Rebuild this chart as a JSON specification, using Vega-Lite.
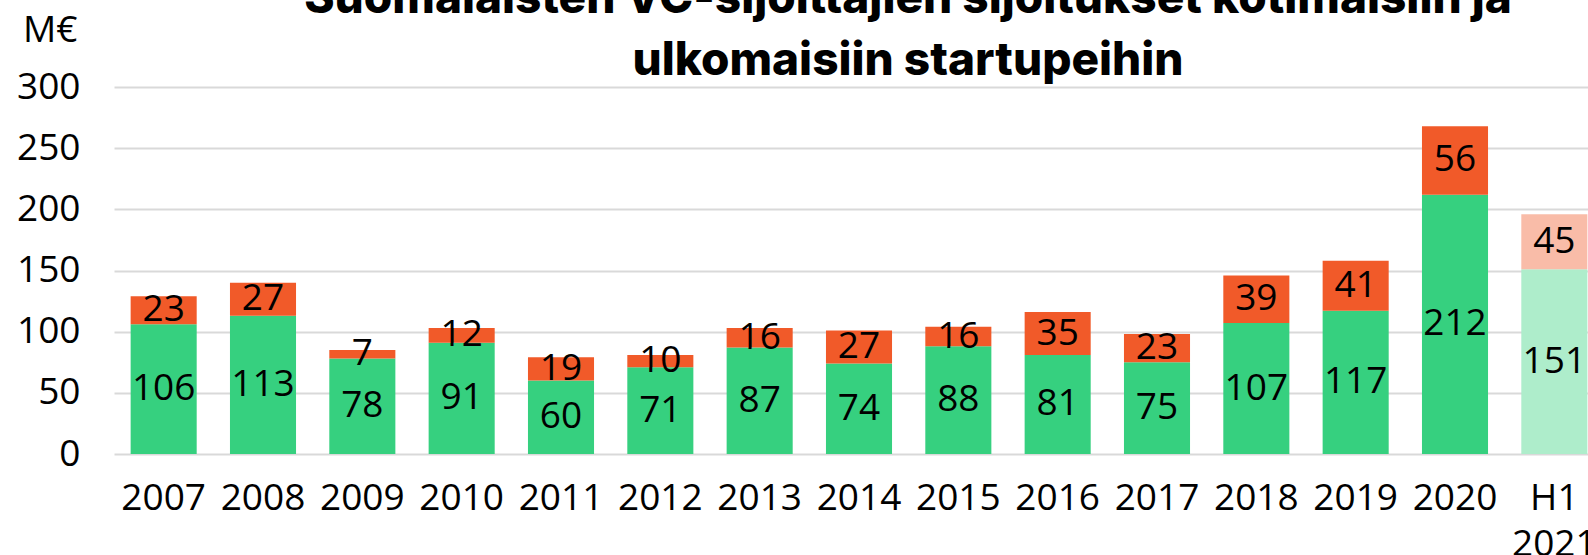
{
  "$schema": "https://vega.github.io/schema/vega-lite/v6.json",
  "width": 1474,
  "height": 367,
  "autosize": {"type": "none"},
  "padding": {"left": 114, "top": 87, "right": 0, "bottom": 101},
  "background": "white",
  "config": {"view": {"stroke": null}, "font": "Open Sans"},
  "title": {
    "text": ["Suomalaisten VC-sijoittajien sijoitukset kotimaisiin ja", "ulkomaisiin startupeihin"],
    "font": "Inter",
    "fontSize": 46,
    "fontWeight": 800,
    "lineHeight": 62,
    "anchor": "middle",
    "dx": 57,
    "dy": 78,
    "color": "black"
  },
  "data": {
    "values": [
      {"year": "2007", "type": "Kotimaiset", "ord": 1, "series": "Kotimaiset", "value": 106},
      {"year": "2007", "type": "Ulkomaiset", "ord": 2, "series": "Ulkomaiset", "value": 23},
      {"year": "2008", "type": "Kotimaiset", "ord": 1, "series": "Kotimaiset", "value": 113},
      {"year": "2008", "type": "Ulkomaiset", "ord": 2, "series": "Ulkomaiset", "value": 27},
      {"year": "2009", "type": "Kotimaiset", "ord": 1, "series": "Kotimaiset", "value": 78},
      {"year": "2009", "type": "Ulkomaiset", "ord": 2, "series": "Ulkomaiset", "value": 7},
      {"year": "2010", "type": "Kotimaiset", "ord": 1, "series": "Kotimaiset", "value": 91},
      {"year": "2010", "type": "Ulkomaiset", "ord": 2, "series": "Ulkomaiset", "value": 12},
      {"year": "2011", "type": "Kotimaiset", "ord": 1, "series": "Kotimaiset", "value": 60},
      {"year": "2011", "type": "Ulkomaiset", "ord": 2, "series": "Ulkomaiset", "value": 19},
      {"year": "2012", "type": "Kotimaiset", "ord": 1, "series": "Kotimaiset", "value": 71},
      {"year": "2012", "type": "Ulkomaiset", "ord": 2, "series": "Ulkomaiset", "value": 10},
      {"year": "2013", "type": "Kotimaiset", "ord": 1, "series": "Kotimaiset", "value": 87},
      {"year": "2013", "type": "Ulkomaiset", "ord": 2, "series": "Ulkomaiset", "value": 16},
      {"year": "2014", "type": "Kotimaiset", "ord": 1, "series": "Kotimaiset", "value": 74},
      {"year": "2014", "type": "Ulkomaiset", "ord": 2, "series": "Ulkomaiset", "value": 27},
      {"year": "2015", "type": "Kotimaiset", "ord": 1, "series": "Kotimaiset", "value": 88},
      {"year": "2015", "type": "Ulkomaiset", "ord": 2, "series": "Ulkomaiset", "value": 16},
      {"year": "2016", "type": "Kotimaiset", "ord": 1, "series": "Kotimaiset", "value": 81},
      {"year": "2016", "type": "Ulkomaiset", "ord": 2, "series": "Ulkomaiset", "value": 35},
      {"year": "2017", "type": "Kotimaiset", "ord": 1, "series": "Kotimaiset", "value": 75},
      {"year": "2017", "type": "Ulkomaiset", "ord": 2, "series": "Ulkomaiset", "value": 23},
      {"year": "2018", "type": "Kotimaiset", "ord": 1, "series": "Kotimaiset", "value": 107},
      {"year": "2018", "type": "Ulkomaiset", "ord": 2, "series": "Ulkomaiset", "value": 39},
      {"year": "2019", "type": "Kotimaiset", "ord": 1, "series": "Kotimaiset", "value": 117},
      {"year": "2019", "type": "Ulkomaiset", "ord": 2, "series": "Ulkomaiset", "value": 41},
      {"year": "2020", "type": "Kotimaiset", "ord": 1, "series": "Kotimaiset", "value": 212},
      {"year": "2020", "type": "Ulkomaiset", "ord": 2, "series": "Ulkomaiset", "value": 56},
      {"year": "H1 2021", "type": "Kotimaiset", "ord": 1, "series": "Kotimaiset H1", "value": 151},
      {"year": "H1 2021", "type": "Ulkomaiset", "ord": 2, "series": "Ulkomaiset H1", "value": 45}
    ]
  },
  "transform": [
    {"stack": "value", "groupby": ["year"], "sort": [{"field": "ord", "order": "ascending"}], "as": ["y0", "y1"]},
    {"calculate": "(datum.y0 + datum.y1) / 2", "as": "mid"}
  ],
  "encoding": {
    "x": {
      "field": "year",
      "type": "nominal",
      "sort": null,
      "scale": {"range": [0, 1490], "paddingInner": 0.335, "paddingOuter": 0.1675},
      "axis": {
        "title": null,
        "labelAngle": 0,
        "ticks": false,
        "domain": false,
        "labelFontSize": 37,
        "labelColor": "black",
        "labelPadding": 26,
        "labelLineHeight": 46,
        "labelOverlap": false,
        "labelExpr": "datum.value == 'H1 2021' ? ['H1', '2021'] : datum.value"
      }
    }
  },
  "layer": [
    {
      "mark": {"type": "bar"},
      "encoding": {
        "y": {
          "field": "y0",
          "type": "quantitative",
          "scale": {"domain": [0, 300], "nice": false},
          "axis": {
            "values": [0, 50, 100, 150, 200, 250, 300],
            "grid": true,
            "gridColor": "#d9d9d9",
            "gridWidth": 2,
            "domain": false,
            "ticks": false,
            "labelFontSize": 37,
            "labelColor": "black",
            "labelPadding": 34,
            "title": "M€",
            "titleAngle": 0,
            "titleAlign": "right",
            "titleBaseline": "alphabetic",
            "titleX": -37,
            "titleY": -46,
            "titleFontSize": 37,
            "titleFontWeight": "normal",
            "titleColor": "black"
          }
        },
        "y2": {"field": "y1"},
        "color": {
          "field": "series",
          "type": "nominal",
          "scale": {
            "domain": ["Kotimaiset", "Ulkomaiset", "Kotimaiset H1", "Ulkomaiset H1"],
            "range": ["#36d07f", "#f15a29", "#aeedcb", "#f9bca8"]
          },
          "legend": null
        }
      }
    },
    {
      "mark": {"type": "text", "fontSize": 37, "color": "black", "baseline": "middle"},
      "encoding": {
        "y": {"field": "mid", "type": "quantitative"},
        "text": {"field": "value", "type": "quantitative"}
      }
    }
  ]
}
